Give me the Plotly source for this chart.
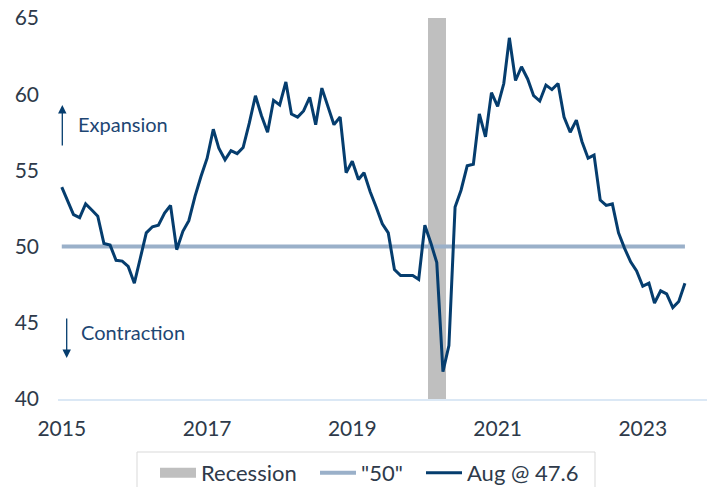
import pandas as pd
import plotly.graph_objects as go

# ---- data ----
start_month = "2015-01-01"
pmi_values = [
    53.9, 53.0, 52.1, 51.9, 52.8, 52.4, 52.0, 50.2, 50.1, 49.1, 49.05, 48.7,   # 2015
    47.6, 49.3, 50.9, 51.3, 51.4, 52.2, 52.7, 49.8, 51.0, 51.7, 53.3, 54.6,    # 2016
    55.8, 57.7, 56.45, 55.7, 56.3, 56.1, 56.5, 58.1, 59.9, 58.6, 57.5, 59.6,   # 2017
    59.3, 60.8, 58.7, 58.5, 58.9, 59.8, 58.0, 60.4, 59.2, 58.0, 58.5, 54.85,   # 2018
    55.6, 54.4, 54.85, 53.6, 52.6, 51.5, 50.9, 48.5, 48.1, 48.1, 48.1, 47.85,  # 2019
    51.4, 50.2, 48.95, 41.8, 43.5, 52.6, 53.7, 55.3, 55.4, 58.7, 57.2, 60.1,   # 2020
    59.2, 60.7, 63.7, 60.9, 61.8, 61.0, 59.9, 59.55, 60.6, 60.3, 60.7, 58.5,   # 2021
    57.5, 58.3, 56.9, 55.8, 56.0, 53.05, 52.7, 52.8, 50.9, 49.9, 49.0, 48.4,   # 2022
    47.4, 47.6, 46.3, 47.1, 46.9, 46.0, 46.4, 47.6,                            # 2023
]
months = pd.date_range(start_month, periods=len(pmi_values), freq="MS")
recession_months = ["2020-02-01", "2020-03-01", "2020-04-01"]
recession_top = 65
threshold = 50
y_ticks = [40, 45, 50, 55, 60, 65]
x_tick_years = ["2015", "2017", "2019", "2021", "2023"]
legend_names = ["Recession", '"50"', "Aug @ 47.6"]

NAVY = "#053d6e"
LIGHT = "#9ab0c9"
GRAY = "#bfbfbf"
TXT = "#2e3a4a"
ANN = "#1d4673"
FONT = "Lato, 'Open Sans', sans-serif"
FS = 20
W, H = 707, 487
L, T, B = 58, 18, 88

fig = go.Figure()
fig.add_trace(go.Bar(
    x=recession_months, y=[recession_top - 40] * len(recession_months), base=40,
    marker=dict(color=GRAY, line=dict(width=0)), name=legend_names[0],
    showlegend=False,
))
# legend proxy for the recession band (wide gray swatch)
fig.add_trace(go.Scatter(
    x=[None], y=[None], mode="lines", line=dict(color=GRAY, width=12),
    name=legend_names[0], legend="legend",
))
fig.add_trace(go.Scatter(
    x=months, y=[threshold] * len(months), mode="lines",
    line=dict(color=LIGHT, width=4), name=legend_names[1], legend="legend2",
))
fig.add_trace(go.Scatter(
    x=months, y=pmi_values, mode="lines",
    line=dict(color=NAVY, width=3), name=legend_names[2], legend="legend3",
))

def leg(px_left):
    return dict(
        orientation="h", xref="container", yref="container",
        x=px_left / W, xanchor="left", y=1 - 452 / H, yanchor="top",
        bgcolor="rgba(0,0,0,0)", borderwidth=0,
        font=dict(size=22, color=TXT), itemwidth=36,
    )

fig.update_layout(
    width=W, height=H,
    margin=dict(l=L, r=0, t=T, b=B, autoexpand=False),
    paper_bgcolor="white", plot_bgcolor="white",
    font=dict(family=FONT, size=FS, color=TXT),
    bargap=0,
    showlegend=True,
    legend=leg(155),
    legend2=leg(315),
    legend3=leg(421),
    xaxis=dict(
        type="date", automargin=False,
        range=["2014-12-13", "2023-11-20"],
        tickvals=[f"{y}-01-01" for y in x_tick_years],
        ticktext=x_tick_years,
        showgrid=False, zeroline=False,
        showline=True, linecolor="#dbe8f5", linewidth=2,
        ticks="", ticklabelstandoff=10,
        tickfont=dict(size=21, color=TXT),
    ),
    yaxis=dict(
        range=[40, 65], tickvals=y_ticks, automargin=False,
        showgrid=False, zeroline=False, showline=False,
        ticks="", ticklabelstandoff=18,
        tickfont=dict(size=21, color=TXT),
    ),
)

def px_x(px):
    return (px - L) / (W - L)

def px_y(py):
    return (H - B - py) / (H - B - T)

# legend frame
fig.add_shape(type="rect", xref="paper", yref="paper",
              x0=px_x(137), x1=px_x(595), y0=px_y(452), y1=px_y(495),
              line=dict(color="#d9d9d9", width=1), fillcolor="rgba(0,0,0,0)",
              layer="below")

# Expansion / Contraction annotations
fig.add_annotation(xref="paper", yref="paper", x=px_x(62.3), y=px_y(105),
                   ax=0, ay=42, text="", showarrow=True, arrowhead=2,
                   arrowsize=1.3, arrowwidth=1.3, arrowcolor=NAVY)
fig.add_annotation(xref="paper", yref="paper", x=px_x(66.7), y=px_y(358),
                   ax=0, ay=-41, text="", showarrow=True, arrowhead=2,
                   arrowsize=1.3, arrowwidth=1.3, arrowcolor=NAVY)
fig.add_annotation(xref="paper", yref="paper", x=px_x(76), y=px_y(124.3),
                   xanchor="left", yanchor="middle", text="Expansion",
                   showarrow=False, font=dict(size=FS, color=ANN))
fig.add_annotation(xref="paper", yref="paper", x=px_x(79), y=px_y(332),
                   xanchor="left", yanchor="middle", text="Contraction",
                   showarrow=False, font=dict(size=FS, color=ANN))

fig.write_html("out.html", config={"displayModeBar": False},
               post_script="document.body.style.margin='0';document.body.style.overflow='hidden';")
